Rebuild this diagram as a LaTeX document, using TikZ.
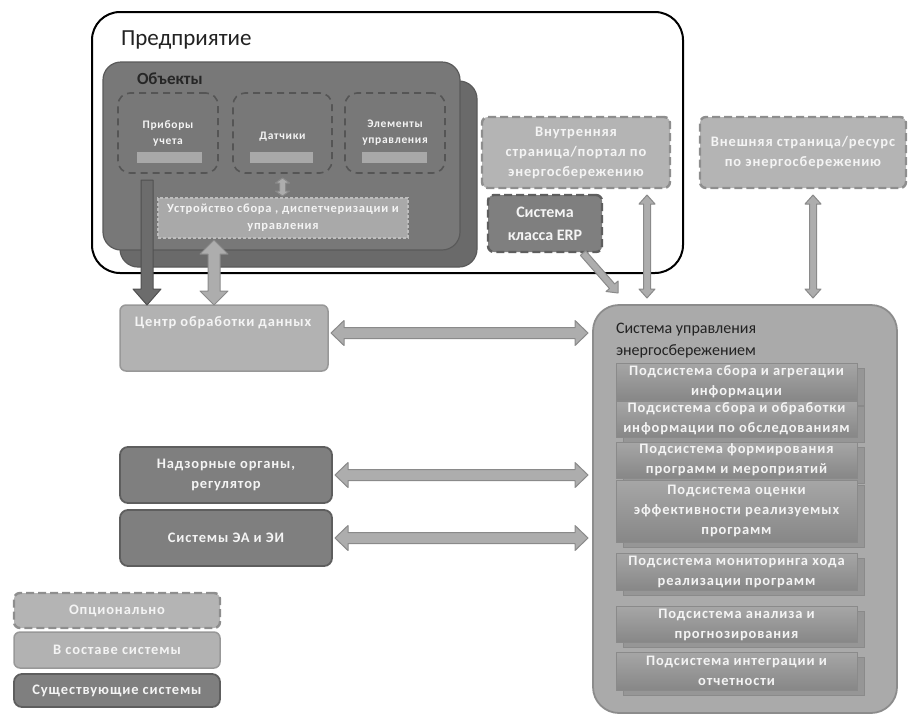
\documentclass[tikz,border=0pt]{standalone}
\usepackage{fontspec}
\setmainfont{Carlito}
\newfontfamily\lsfont{Carlito}[LetterSpace=6]
\usetikzlibrary{calc,shadows}
\definecolor{objF}{HTML}{787878}
\definecolor{objB}{HTML}{6A6A6A}
\definecolor{objD}{HTML}{5A5A5A}
\definecolor{dashD}{HTML}{555555}
\definecolor{barF}{HTML}{A8A8A8}
\definecolor{ustrF}{HTML}{A9A9A9}
\definecolor{ustrD}{HTML}{BDBDBD}
\definecolor{optF}{HTML}{B4B4B4}
\definecolor{optD}{HTML}{8E8E8E}
\definecolor{lightF}{HTML}{B2B2B2}
\definecolor{lightD}{HTML}{989898}
\definecolor{darkF}{HTML}{7F7F7F}
\definecolor{darkD}{HTML}{5E5E5E}
\definecolor{sysF}{HTML}{AAAAAA}
\definecolor{sysD}{HTML}{8C8C8C}
\definecolor{subT}{HTML}{A6A6A6}
\definecolor{subB}{HTML}{878787}
\definecolor{subD}{HTML}{8A8A8A}
\definecolor{shadF}{HTML}{969696}
\definecolor{arrF}{HTML}{ADADAD}
\definecolor{arrD}{HTML}{8A8A8A}
\definecolor{arrDkF}{HTML}{6C6C6C}
\definecolor{arrDkD}{HTML}{505050}
\definecolor{txtW}{HTML}{F4F4F4}
\definecolor{txtD}{HTML}{222222}
% double-headed fat arrow: style, start, end, head length, head half-width, shaft half-width
\newcommand\fatdbl[6]{%
  \coordinate (fa) at ($(#2)!#4!(#3)$);
  \coordinate (fb) at ($(#3)!#4!(#2)$);
  \draw[#1] (#2) -- ($(fa)!#5!90:(#3)$) -- ($(fa)!#6!90:(#3)$) -- ($(fb)!#6!-90:(#2)$)
    -- ($(fb)!#5!-90:(#2)$) -- (#3) -- ($(fb)!#5!90:(#2)$) -- ($(fb)!#6!90:(#2)$)
    -- ($(fa)!#6!-90:(#3)$) -- ($(fa)!#5!-90:(#3)$) -- cycle;}
% single-headed fat arrow (head at end)
\newcommand\fatone[6]{%
  \coordinate (fb) at ($(#3)!#4!(#2)$);
  \draw[#1] ($(#2)!#6!90:(#3)$) -- ($(fb)!#6!-90:(#2)$) -- ($(fb)!#5!-90:(#2)$) -- (#3)
    -- ($(fb)!#5!90:(#2)$) -- ($(fb)!#6!90:(#2)$) -- ($(#2)!#6!-90:(#3)$) -- cycle;}
\begin{document}
\begin{tikzpicture}[x=1pt,y=-1pt,
  every node/.style={inner sep=0pt, outer sep=0pt},
  entbox/.style={draw=black, line width=2pt, rounded corners=28pt, fill=white},
  objback/.style={fill=objB, draw=objD, line width=1.2pt, rounded corners=18pt},
  objfront/.style={fill=objF, draw=objD, line width=1.2pt, rounded corners=18pt},
  objdash/.style={draw=dashD, line width=1.6pt, dash pattern=on 7pt off 5pt, rounded corners=12pt},
  barbox/.style={fill=barF},
  ustrbox/.style={fill=ustrF, draw=ustrD, line width=1.5pt, dash pattern=on 3pt off 2pt},
  optbox/.style={fill=optF, draw=optD, line width=2.4pt, dash pattern=on 8pt off 4pt, rounded corners=6pt},
  optdark/.style={fill=darkF, draw=darkD, line width=2.4pt, dash pattern=on 8pt off 4pt, rounded corners=6pt},
  inbox/.style={fill=lightF, draw=lightD, line width=1.5pt, rounded corners=6pt},
  exbox/.style={fill=darkF, draw=darkD, line width=1.8pt, rounded corners=8pt},
  sysbox/.style={fill=sysF, draw=sysD, line width=1.8pt, rounded corners=26pt},
  subbox/.style={top color=subT, bottom color=subB, draw=subD, line width=0.6pt,
    minimum width=241pt, copy shadow={shadow xshift=7pt, shadow yshift=-5pt, fill=shadF, draw=subD}},
  wtxt/.style={text=txtW, align=center, font=\lsfont\fontsize{14.5}{20}\selectfont\bfseries},
  stxt/.style={text=txtW, align=center, font=\lsfont\fontsize{11.5}{16}\selectfont\bfseries},
  arrowsty/.style={fill=arrF, draw=arrD, line width=1pt, line join=round},
  arrowdk/.style={fill=arrDkF, draw=arrDkD, line width=1pt, line join=round}]
\useasboundingbox (0,0) rectangle (909,716);

% Enterprise
\node[entbox, minimum width=591pt, minimum height=261pt] (ent) at (387.5,142.5) {};
\node[anchor=west, font=\fontsize{23}{27}\selectfont, text=txtD] (enttitle) at (121,40) {Предприятие};

% Objects
\node[objback, minimum width=357pt, minimum height=186pt] (objb) at (298.5,174) {};
\node[objfront, minimum width=357pt, minimum height=188pt] (objf) at (281.5,156) {};
\node[anchor=west, font=\fontsize{17}{19}\selectfont\bfseries, text=black!85] (objt) at (137,79) {Объекты};

\node[objdash, minimum width=100pt, minimum height=80pt] (prib) at (168,133) {};
\node[objdash, minimum width=99pt, minimum height=80pt] (dat) at (282.5,133) {};
\node[objdash, minimum width=100pt, minimum height=80pt] (elem) at (395,133) {};
\node[stxt] (pribt) at (168,133) {Приборы\\учета};
\node[stxt] (datt) at (282.5,137) {Датчики};
\node[stxt] (elemt) at (395,133) {Элементы\\управления};
\node[barbox, minimum width=65pt, minimum height=11pt] (pribb) at (169.5,157.5) {};
\node[barbox, minimum width=63pt, minimum height=11pt] (datb) at (281.5,157.5) {};
\node[barbox, minimum width=65pt, minimum height=11pt] (elemb) at (394.5,157.5) {};

\node[ustrbox, minimum width=250pt, minimum height=40pt, stxt, font=\lsfont\fontsize{12.5}{17}\selectfont\bfseries] (ustr) at (283,218) {Устройство сбора , диспетчеризации и\\управления};

% Internal portal / ERP / external
\node[optbox, minimum width=188pt, minimum height=71pt, wtxt] (vnutr) at (576,152.5) {Внутренняя\\страница/портал по\\энергосбережению};
\node[optdark, minimum width=114pt, minimum height=57pt, wtxt, font=\fontsize{16}{23}\selectfont\bfseries] (erp) at (545,223.5) {Система\\класса ERP};
\node[optbox, minimum width=206pt, minimum height=71pt, wtxt] (vnesh) at (803,152.5) {Внешняя страница/ресурс\\по энергосбережению};

% Data centre and external systems
\node[inbox, minimum width=208pt, minimum height=66pt] (cod) at (224,338) {};
\node[wtxt] (codt) at (223,323) {Центр обработки данных};
\node[exbox, minimum width=212pt, minimum height=56pt, wtxt] (nadz) at (226,475) {Надзорные органы,\\регулятор};
\node[exbox, minimum width=212pt, minimum height=56pt, wtxt] (ea) at (226,538) {Системы ЭА и ЭИ};

% Energy saving management system
\node[sysbox, minimum width=304pt, minimum height=408pt] (sys) at (745,509) {};
\node[anchor=north west, align=left, text=txtD, font=\fontsize{16}{22}\selectfont] (syst) at (616,323) {Система управления\\энергосбережением};

\node[subbox, minimum height=37pt, wtxt] (s1) at (736.5,381.5) {Подсистема сбора  и агрегации\\информации};
\node[subbox, minimum height=36pt, wtxt] (s2) at (736.5,419) {Подсистема сбора и обработки\\информации по обследованиям};
\node[subbox, minimum height=36pt, wtxt] (s3) at (736.5,460) {Подсистема формирования\\программ и мероприятий};
\node[subbox, minimum height=62pt, wtxt] (s4) at (736.5,511) {Подсистема оценки\\эффективности реализуемых\\программ};
\node[subbox, minimum height=37pt, wtxt] (s5) at (736.5,571.5) {Подсистема  мониторинга хода\\реализации программ};
\node[subbox, minimum height=36pt, wtxt] (s6) at (736.5,624.5) {Подсистема анализа и\\прогнозирования};
\node[subbox, minimum height=38pt, wtxt] (s7) at (736.5,671) {Подсистема интеграции и\\отчетности};

% Legend
\node[optbox, minimum width=206pt, minimum height=35pt, wtxt] (lg1) at (117,610.5) {Опционально};
\node[inbox, minimum width=206pt, minimum height=36pt, wtxt] (lg2) at (117,650) {В составе системы};
\node[exbox, minimum width=206pt, minimum height=33pt, wtxt] (lg3) at (117,690.5) {Существующие системы};

% Arrow end points
\coordinate (a1s) at ($(cod.north east)+(3,28)$);
\coordinate (a1e) at ($(sys.north west)+(-5,28)$);
\coordinate (a2s) at ($(nadz.east)+(3,0)$);
\coordinate (a2e) at ($(sys.west |- nadz.east)+(-5,0)$);
\coordinate (a3s) at ($(ea.east)+(3,0)$);
\coordinate (a3e) at ($(sys.west |- ea.east)+(-5,0)$);
\coordinate (a4s) at ($(vnutr.south east)+(-23,7)$);
\coordinate (a4e) at ($(sys.north west)+(54,-7)$);
\coordinate (a5s) at ($(vnesh.south)+(10,7)$);
\coordinate (a5e) at ($(sys.north west)+(220,-7)$);
\coordinate (a6s) at ($(erp.south east)+(-19,1)$);
\coordinate (a6e) at ($(sys.north west)+(25,-12)$);
\coordinate (a7s) at ($(prib.south west)+(29,7)$);
\coordinate (a7e) at ($(cod.north west)+(27,0)$);
\coordinate (a8s) at ($(ustr.south west)+(56,2)$);
\coordinate (a8e) at ($(cod.north west)+(94,0)$);
\coordinate (a9s) at ($(dat.south)+(0,5)$);
\coordinate (a9e) at ($(dat.south |- ustr.north)+(0,-2)$);

% Arrows
\fatdbl{arrowsty}{a1s}{a1e}{13pt}{12.5pt}{5.5pt}
\fatdbl{arrowsty}{a2s}{a2e}{13pt}{12.5pt}{5.5pt}
\fatdbl{arrowsty}{a3s}{a3e}{13pt}{12.5pt}{5.5pt}
\fatdbl{arrowsty}{a4s}{a4e}{9pt}{8pt}{3.5pt}
\fatdbl{arrowsty}{a5s}{a5e}{9pt}{8pt}{3.5pt}
\fatone{arrowsty}{a6s}{a6e}{9pt}{8pt}{3.5pt}
\fatone{arrowdk}{a7s}{a7e}{16pt}{14pt}{6pt}
\fatdbl{arrowsty}{a8s}{a8e}{14pt}{14pt}{6pt}
\fatdbl{arrowsty}{a9s}{a9e}{5pt}{7pt}{3pt}
\end{tikzpicture}
\end{document}
